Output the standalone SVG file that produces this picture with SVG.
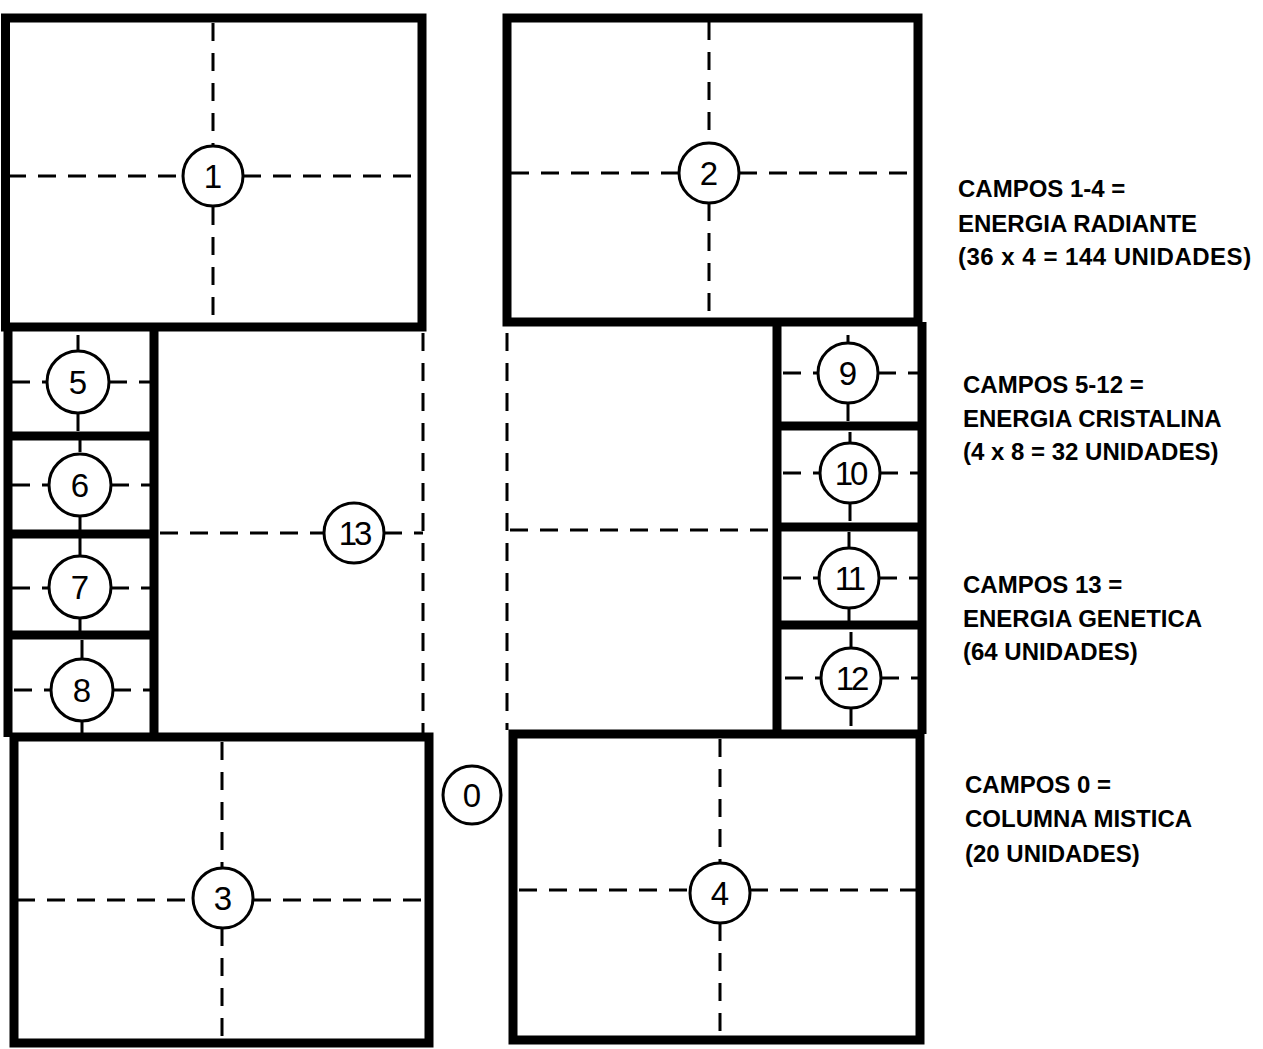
<svg xmlns="http://www.w3.org/2000/svg" width="1263" height="1049" viewBox="0 0 1263 1049">
<style>
.box{fill:none;stroke:#000;stroke-width:9;stroke-linejoin:miter}
.d{fill:none;stroke:#000;stroke-width:3;stroke-dasharray:18 12}
.c{fill:#fff;stroke:#000;stroke-width:3}
.n{font-family:"Liberation Sans",Arial,sans-serif;font-size:33px;text-anchor:middle;fill:#000}
.t{font-family:"Liberation Sans",Arial,sans-serif;font-size:24px;font-weight:bold;fill:#000}
</style>
<rect width="1263" height="1049" fill="#fff"/>
<g id="connectors">
<path class="d" d="M8 176H183M243 176H418M213 23V146M213 207V323"/>
<path class="d" d="M511 173H679M739 173H915M709 22V143M709 203V318"/>
<path class="d" d="M17 900H193M253 900H426M222 742V868M222 928V1040"/>
<path class="d" d="M519 890H690M750 890H916M720 739V863M720 923V1036"/>
<path class="d" d="M160 533H324M384 533H423M423 333V733"/>
<path class="d" d="M507 333V730M510 530H773"/>
<path class="d" d="M12 382H47M109 382H152M78 335V351M78 413V432"/>
<path class="d" d="M12 485H49M111 485H152M80 440V452M80 514V530"/>
<path class="d" d="M12 588H49M111 588H152M80 538V556M80 618V631"/>
<path class="d" d="M14 690H51M113 690H153M82 640V659M82 721V733"/>
<path class="d" d="M783 373H818M878 373H918M848 335V343M848 403V422"/>
<path class="d" d="M783 473H820M880 473H918M850 432V443M850 503V523"/>
<path class="d" d="M783 578H819M879 578H918M849 532V548M849 608V621"/>
<path class="d" d="M785 678H821M881 678H918M851 632V648M851 708V729"/>
</g>
<g id="frames">
<path class="box" d="M5.5 18H422V327H5.5Z"/>
<path class="box" d="M507 18H918V322H507Z"/>
<path class="box" d="M14 737H429V1043H14Z"/>
<path class="box" d="M513 734H920V1040H513Z"/>
<path class="box" d="M8 327V737M154 327V737M8 436H154M8 534H154M8 635H154"/>
<path class="box" d="M777 322V734M922 322V734M777 426H922M777 527H922M777 625H922"/>
</g>
<g id="node-1"><circle class="c" cx="213" cy="176" r="30"/><text class="n" x="213" y="188">1</text></g>
<g id="node-2"><circle class="c" cx="709" cy="173" r="30"/><text class="n" x="709" y="185">2</text></g>
<g id="node-3"><circle class="c" cx="223" cy="898" r="30"/><text class="n" x="223" y="910">3</text></g>
<g id="node-4"><circle class="c" cx="720" cy="893" r="30"/><text class="n" x="720" y="905">4</text></g>
<g id="node-5"><circle class="c" cx="78" cy="382" r="31"/><text class="n" x="78" y="394">5</text></g>
<g id="node-6"><circle class="c" cx="80" cy="485" r="31"/><text class="n" x="80" y="497">6</text></g>
<g id="node-7"><circle class="c" cx="80" cy="587" r="31"/><text class="n" x="80" y="599">7</text></g>
<g id="node-8"><circle class="c" cx="82" cy="690" r="31"/><text class="n" x="82" y="702">8</text></g>
<g id="node-9"><circle class="c" cx="848" cy="373" r="30"/><text class="n" x="848" y="385">9</text></g>
<g id="node-10"><circle class="c" cx="850" cy="473" r="30"/><text class="n" x="850" y="485" letter-spacing="-3">10</text></g>
<g id="node-11"><circle class="c" cx="849" cy="578" r="30"/><text class="n" x="849" y="590" letter-spacing="-3">11</text></g>
<g id="node-12"><circle class="c" cx="851" cy="678" r="30"/><text class="n" x="851" y="690" letter-spacing="-3">12</text></g>
<g id="node-13"><circle class="c" cx="354" cy="533" r="30"/><text class="n" x="354" y="545" letter-spacing="-3">13</text></g>
<g id="node-0"><circle class="c" cx="472" cy="795" r="29"/><text class="n" x="472" y="807">0</text></g>
<g id="legend">
<text class="t" x="958" y="197">CAMPOS 1-4 =</text>
<text class="t" x="958" y="232">ENERGIA RADIANTE</text>
<text class="t" x="958" y="265" letter-spacing="0.5">(36 x 4 = 144 UNIDADES)</text>
<text class="t" x="963" y="393">CAMPOS 5-12 =</text>
<text class="t" x="963" y="427">ENERGIA CRISTALINA</text>
<text class="t" x="963" y="460">(4 x 8 = 32 UNIDADES)</text>
<text class="t" x="963" y="593">CAMPOS 13 =</text>
<text class="t" x="963" y="627">ENERGIA GENETICA</text>
<text class="t" x="963" y="660">(64 UNIDADES)</text>
<text class="t" x="965" y="793">CAMPOS 0 =</text>
<text class="t" x="965" y="827">COLUMNA MISTICA</text>
<text class="t" x="965" y="862">(20 UNIDADES)</text>
</g>
</svg>
